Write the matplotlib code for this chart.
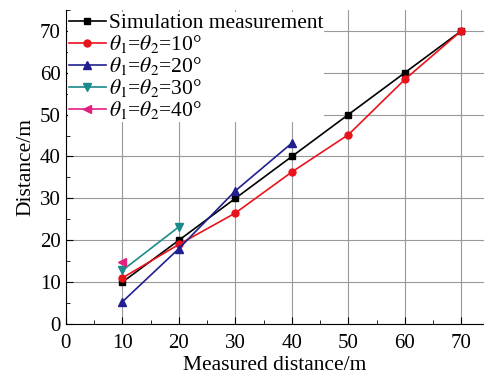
import matplotlib
matplotlib.use("Agg")
import matplotlib.pyplot as plt
from matplotlib.ticker import MultipleLocator

plt.rcParams["font.family"] = ["Liberation Serif", "DejaVu Serif"]
plt.rcParams["mathtext.fontset"] = "stix"

# data
x_sim = [10, 20, 30, 40, 50, 60, 70]
y_sim = [10, 20, 30, 40, 50, 60, 70]
x_10 = [10, 20, 30, 40, 50, 60, 70]
y_10 = [11, 19, 26.5, 36.3, 45.2, 58.4, 70]
x_20 = [10, 20, 30, 40]
y_20 = [5.3, 18, 31.8, 43.2]
x_30 = [10, 20]
y_30 = [12.8, 23.2]
x_40 = [10]
y_40 = [14.7]

fig = plt.figure(figsize=(4.84, 3.79), dpi=100)
ax = fig.add_axes([0.136, 0.145, 0.864, 0.829])

ax.plot(x_sim, y_sim, color="black", marker="s", ms=5, lw=1.2, label="Simulation measurement")
ax.plot(x_10, y_10, color="#e8141c", marker="o", ms=5, lw=1.2, label=r"$\theta_1$=$\theta_2$=10°")
ax.plot(x_20, y_20, color="#1f1f8f", marker="^", ms=6, lw=1.2, label=r"$\theta_1$=$\theta_2$=20°")
ax.plot(x_30, y_30, color="#1a8a8a", marker="v", ms=6, lw=1.2, label=r"$\theta_1$=$\theta_2$=30°")
ax.plot(x_40, y_40, color="#e0207f", marker="<", ms=6, lw=1.2, label=r"$\theta_1$=$\theta_2$=40°")

ax.set_xlim(0, 74)
ax.set_ylim(0, 75)
ax.xaxis.set_major_locator(MultipleLocator(10))
ax.xaxis.set_minor_locator(MultipleLocator(5))
ax.yaxis.set_major_locator(MultipleLocator(10))
ax.yaxis.set_minor_locator(MultipleLocator(5))
ax.tick_params(which="both", direction="in", labelsize=15)
ax.tick_params(axis="x", pad=7)
ax.tick_params(which="major", length=5)
ax.tick_params(which="minor", length=3)
ax.spines["top"].set_visible(False)
ax.spines["right"].set_visible(False)
ax.grid(True, which="major", color="#999999", lw=0.8)
ax.set_axisbelow(True)

ax.set_xlabel("Measured distance/m", fontsize=15.5, labelpad=2)
ax.set_ylabel("Distance/m", fontsize=15.5, labelpad=3)

leg = ax.legend(loc="upper left", fontsize=15.5, frameon=True, framealpha=1,
                edgecolor="none", fancybox=False, handlelength=1.7,
                handletextpad=0.15, labelspacing=0.0, borderpad=0.05,
                borderaxespad=0.1)

fig.savefig("out.png", dpi=100)
